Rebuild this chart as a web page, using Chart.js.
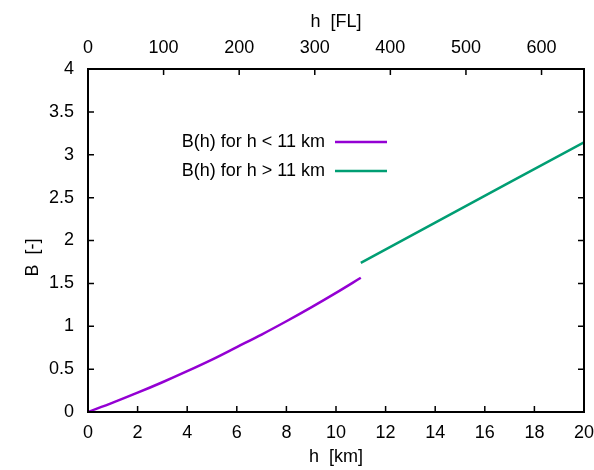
<!DOCTYPE html>
<html>
<head>
<meta charset="utf-8">
<script src="https://cdn.jsdelivr.net/npm/chart.js@4"></script>
<style>
  html, body { margin: 0; padding: 0; background: #fff; }
  canvas { display: block; }
</style>
</head>
<body>
<canvas id="chart" width="594" height="470"></canvas>
<script>
// troposphere branch, h in km
const hLow = [0, 1, 2, 3, 4, 5, 6, 7, 8, 9, 10, 11]
const bLow = [0, 0.109, 0.225, 0.347, 0.476, 0.611, 0.757, 0.903, 1.058, 1.22, 1.389, 1.565]
// stratosphere branch
const hHigh = [11, 14, 17, 20]
const bHigh = [1.74, 2.209, 2.677, 3.146]

const seriesLabels = ["B(h) for h < 11 km", "B(h) for h > 11 km"]
const kmTicks = [0, 2, 4, 6, 8, 10, 12, 14, 16, 18, 20]
const flTicks = [0, 100, 200, 300, 400, 500, 600]
const bTicks = [0, 0.5, 1, 1.5, 2, 2.5, 3, 3.5, 4]
const yTitle = "B  [-]"

const KM_TO_FL = 1000 / 0.3048 / 100
const FONT = "'Liberation Sans', Arial, sans-serif"

const toPoints = (xs, ys) => xs.map((x, i) => ({ x: x, y: ys[i] }))
const fixTicks = (list) => (scale) => { scale.ticks = list.map(v => ({ value: v })) }
const plain = (v) => String(v)

// gnuplot style border, inward ticks, key and y label
const framePlugin = {
  id: "frame",
  afterDatasetsDraw(chart) {
    const { ctx, chartArea: a, scales } = chart
    const len = 6
    ctx.save()
    ctx.strokeStyle = "#000"
    ctx.lineWidth = 1.5
    ctx.beginPath()
    scales.x.ticks.forEach(t => {
      const px = scales.x.getPixelForValue(t.value)
      ctx.moveTo(px, a.bottom); ctx.lineTo(px, a.bottom - len)
    })
    scales.x2.ticks.forEach(t => {
      const px = scales.x2.getPixelForValue(t.value)
      ctx.moveTo(px, a.top); ctx.lineTo(px, a.top + len)
    })
    scales.y.ticks.forEach(t => {
      const py = scales.y.getPixelForValue(t.value)
      ctx.moveTo(a.left, py); ctx.lineTo(a.left + len, py)
      ctx.moveTo(a.right, py); ctx.lineTo(a.right - len, py)
    })
    ctx.stroke()
    ctx.lineWidth = 2
    ctx.strokeRect(a.left, a.top, a.right - a.left, a.bottom - a.top)

    // key
    ctx.font = "18px " + FONT
    ctx.fillStyle = "#000"
    ctx.textAlign = "right"
    ctx.textBaseline = "middle"
    chart.data.datasets.forEach((ds, i) => {
      const y = a.top + 73 + i * 29
      ctx.fillText(ds.label, a.left + 237, y)
      ctx.strokeStyle = ds.borderColor
      ctx.lineWidth = 2.5
      ctx.beginPath()
      ctx.moveTo(a.left + 247, y)
      ctx.lineTo(a.left + 299, y)
      ctx.stroke()
    })

    // y axis title
    ctx.translate(a.left - 55, (a.top + a.bottom) / 2 + 17)
    ctx.rotate(-Math.PI / 2)
    ctx.textAlign = "center"
    ctx.fillText(yTitle, 0, 0)
    ctx.restore()
  }
}

new Chart(document.getElementById("chart"), {
  type: "line",
  data: {
    datasets: [
      {
        label: seriesLabels[0],
        data: toPoints(hLow, bLow),
        borderColor: "#9400d3",
        borderWidth: 2.5,
        pointRadius: 0,
        cubicInterpolationMode: "monotone",
      },
      {
        label: seriesLabels[1],
        data: toPoints(hHigh, bHigh),
        borderColor: "#009e73",
        borderWidth: 2.5,
        pointRadius: 0,
      },
    ],
  },
  options: {
    responsive: false,
    animation: false,
    layout: { padding: 0 },
    plugins: {
      legend: { display: false },
      tooltip: { enabled: false },
    },
    scales: {
      x: {
        type: "linear",
        position: "bottom",
        min: 0,
        max: 20,
        afterBuildTicks: fixTicks(kmTicks),
        afterFit: (s) => { s.height = 58; s.paddingRight = 10 },
        grid: { display: false, drawTicks: false },
        border: { display: false },
        ticks: { color: "#000", padding: 10, maxRotation: 0, autoSkip: false, callback: plain, font: { family: FONT, size: 18 } },
        title: {
          display: true,
          text: "h  [km]",
          color: "#000",
          padding: { top: 0, bottom: 2 },
          font: { family: FONT, size: 18 },
        },
      },
      x2: {
        type: "linear",
        position: "top",
        min: 0,
        max: 20 * KM_TO_FL,
        afterBuildTicks: fixTicks(flTicks),
        afterFit: (s) => { s.height = 69 },
        grid: { display: false, drawTicks: false },
        border: { display: false },
        ticks: { color: "#000", padding: 10, maxRotation: 0, autoSkip: false, callback: plain, font: { family: FONT, size: 18 } },
        title: {
          display: true,
          text: "h  [FL]",
          color: "#000",
          padding: { top: 11, bottom: 0 },
          font: { family: FONT, size: 18 },
        },
      },
      y: {
        type: "linear",
        min: 0,
        max: 4,
        afterBuildTicks: fixTicks(bTicks),
        afterFit: (s) => { s.width = 88 },
        grid: { display: false, drawTicks: false },
        border: { display: false },
        ticks: { color: "#000", padding: 14, autoSkip: false, callback: plain, font: { family: FONT, size: 18 } },
      },
    },
  },
  plugins: [framePlugin],
})
</script>
</body>
</html>
